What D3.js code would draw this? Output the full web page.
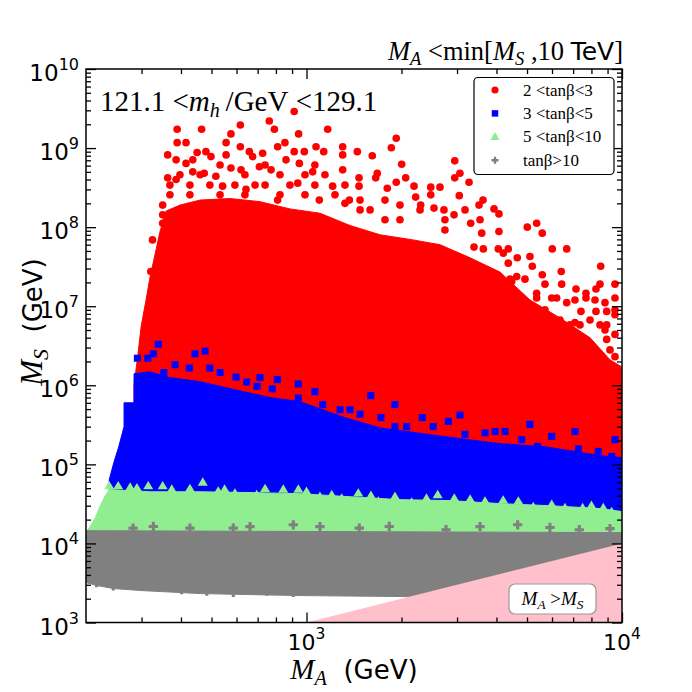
<!DOCTYPE html>
<html><head><meta charset="utf-8">
<script src="https://cdn.jsdelivr.net/npm/d3@7"></script>
<style>body{margin:0;background:#fff}svg{display:block}</style>
</head><body><svg id="c" width="692" height="692"></svg>
<script>
// ---------------- data (values in GeV) ----------------
const xTickValues = [1e3, 1e4];
const xTickExp = ["3", "4"];
const yTickValues = [1e3, 1e4, 1e5, 1e6, 1e7, 1e8, 1e9, 1e10];
const yTickExp = ["3", "4", "5", "6", "7", "8", "9", "10"];
const seriesNames = ["2 <tanβ<3", "3 <tanβ<5", "5 <tanβ<10", "tanβ>10"];

// densely filled parts of each sample, outlined as [M_A, M_S]
const redRegion = [[284,1.0e6],[292,2.4e6],[299,5.5e6],[310,1.2e7],[319,2.3e7],[331,4.5e7],[343,8.7e7],[359,1.6e8],[397,1.9e8],[460,2.2e8],[572,2.3e8],[712,2.1e8],[886,1.7e8],[1103,1.5e8],[1373,1.05e8],[1710,8.0e7],[2128,7.0e7],[2649,6.0e7],[3298,4.1e7],[4104,2.7e7],[5108,1.2e7],[6361,7.1e6],[7917,4.0e6],[9160,2.1e6],[10000,1.7e6],[10000,7.4e4],[284,7.4e4]];
const blueRegion = [[284,1.4e6],[319,1.48e6],[369,1.25e6],[460,1.11e6],[593,8.8e5],[766,7.0e5],[953,6.2e5],[1324,3.9e5],[1710,2.9e5],[2746,2.24e5],[4104,1.83e5],[5700,1.67e5],[8516,1.29e5],[10000,1.22e5],[10000,2.5e4],[237,4.1e4],[237,6.4e4],[245,1.05e5],[254,1.67e5],[264,3.0e5],[264,6.0e5],[284,6.0e5]];
const greenRegion = [[200,1.37e4],[206,1.63e4],[214,2.12e4],[222,3.0e4],[230,4.0e4],[237,4.8e4],[319,4.5e4],[460,4.5e4],[662,4.4e4],[953,4.26e4],[1367,3.9e4],[1978,3.58e4],[2849,3.48e4],[4104,3.19e4],[5910,3.0e4],[8516,2.76e4],[10000,2.53e4],[10000,1.12e4],[200,1.12e4]];
const grayRegion = [[200,1.45e4],[10000,1.37e4],[10000,1.95e3],[1978,2.13e3],[953,2.19e3],[460,2.32e3],[297,2.54e3],[244,2.69e3],[217,2.93e3],[200,3.2e3]];
const excludedRegion = [[1000,1000],[10000,10000],[10000,1000]];

// individual points on the sparse fringes, [M_A, M_S]
const redPoints = [[914,2.9e9],[762,2.2e9],[617,1.96e9],[389,1.73e9],[465,1.73e9],[791,1.73e9],[1167,1.73e9],[576,1.51e9],[944,1.51e9],[389,1.17e9],[415,1.17e9],[556,1.17e9],[854,1.17e9],[1302,1.04e9],[617,1.04e9],[810,1.04e9],[1072,1.04e9],[363,8.2e8],[450,8.8e8],[480,9.0e8],[556,8.2e8],[659,9.0e8],[726,8.6e8],[914,9.0e8],[984,9.0e8],[1302,8.2e8],[386,7.1e8],[498,7.8e8],[675,7.8e8],[1134,9.0e8],[415,6.4e8],[436,7.1e8],[861,7.1e8],[949,6.4e8],[363,4.2e8],[386,4.0e8],[576,5.6e8],[620,5.3e8],[709,5.8e8],[772,5.3e8],[1302,5.3e8],[1046,5.0e8],[436,5.0e8],[474,4.8e8],[516,4.4e8],[938,3.6e8],[1210,3.3e8],[350,1.9e8],[325,6.9e7],[321,2.75e7],[1098,2.2e8],[810,2.2e8],[643,3.0e8],[542,3.3e8],[1367,2.2e8],[350,1.43e8],[350,1.12e8],
[1925,1.33e9],[1857,1.01e9],[1449,9.0e8],[1616,8.0e8],[2950,6.9e8],[2003,6.25e8],[3064,4.8e8],[2950,4.2e8],[3274,3.7e8],[2476,3.2e8],[2649,3.2e8],[2062,4.2e8],[1925,3.7e8],[1676,4.8e8],[1657,4.2e8],[3050,2.5e8],[3626,2.2e8],[3522,1.9e8],[3930,1.7e8],[4074,1.47e8],[5010,1.0e8],[5364,1.12e8],[5588,8.4e7],[6012,5.3e7],[6679,5.3e7],[8560,3.2e7],[6420,2.75e7],[5588,2.5e7],[5195,3.2e7],[4656,4.1e7],[4074,8.8e7],[3592,8.4e7],[3314,1.12e8],[2935,1.43e8],[2727,1.65e8],[2535,1.74e8],[2301,1.9e8],[2218,2.4e8],[2476,2.56e8],[1803,3.1e8],[1467,4.2e8],[1467,3.3e8],[2192,3.3e8],
[9500,1.9e7],[8516,1.9e7],[6438,1.9e7],[7148,1.65e7],[7688,1.46e7],[7688,1.27e7],[8270,1.65e7],[8832,1.11e7],[9500,1.27e7],[7412,8.6e6],[8270,8.6e6],[8942,8.6e6],[9500,7.8e6],[6679,1.11e7],[5986,1.27e7],[6208,1.27e7],[5364,1.46e7],[5364,1.27e7],[5108,4.25e7],[4360,3.5e7],[4054,5.3e7],[4205,4.7e7],[4360,5.3e7],[3635,5.3e7],[3396,5.6e7],[5600,5.1e6],[5600,6.7e6],[6361,6.7e6],[6840,5.8e6],[7360,5.8e6],[7917,6.7e6],[8516,5.8e6],[8942,3.8e6],[9160,2.8e6],[9500,2.3e6],[8942,5.8e6],[8832,5.0e6],[4636,2.37e7],[4471,2.05e7],[4257,1.78e7],[3816,1.87e7],[4006,1.46e7],
[397,4.6e8],[460,4.6e8],[638,4.6e8],[824,4.6e8],[989,4.6e8],[1144,4.6e8],[369,3.4e8],[427,3.4e8],[494,3.4e8],[593,3.4e8],[687,3.4e8],[739,3.4e8],[886,3.4e8],[1063,3.4e8],[1324,3.4e8],[532,6.1e8],[739,6.1e8],[1063,6.1e8],[369,2.56e8],[427,2.56e8],[532,2.56e8],[638,2.56e8],[824,2.56e8],[989,2.56e8],[1231,2.56e8],[1324,2.0e8],
[1478,2.2e8],[1590,1.65e8],[1773,2.2e8],[1978,1.24e8],[1773,1.24e8],[2290,1.65e8],[2746,1.24e8],[3180,1.65e8],[1478,1.65e8],[1978,1.9e8],[2746,9.2e7],[3548,1.24e8],
[4414,2.2e7],[4926,2.2e7],[5700,1.9e7],[7094,1.2e7],[8210,1.2e7],[9500,9.0e6],[5700,9.0e6],[7094,6.2e6],[9500,4.4e6]];
const bluePoints = [[339,3.3e6],[291,2.2e6],[314,2.2e6],[327,2.5e6],[443,2.5e6],[477,2.7e6],[494,1.65e6],[425,1.65e6],[353,1.45e6],[532,1.45e6],[598,1.27e6],[646,1.1e6],[697,9.7e5],[808,1.18e6],[942,1.04e6],[779,9.0e5],[942,6.9e5],[1125,5.7e5],[1277,4.9e5],[1598,7.4e5],[1373,4.9e5],[1478,4.3e5],[2328,3.9e5],[2522,3.0e5],[2815,3.5e5],[3180,2.4e5],[3680,2.5e5],[3958,2.6e5],[4809,2.05e5],[5986,2.26e5],[7270,1.57e5],[5404,1.69e5],[8410,1.46e5],[9274,1.26e5],[1722,3.9e5],[1907,3.0e5],[2078,3.0e5],
[383,1.82e6],[712,1.25e6],[1063,8.3e5],[1907,5.7e5],[3066,4.2e5],[5108,3.2e5],[7094,2.6e5],[9500,2.05e5],[4257,2.6e5]];
const greenPoints = [[253,5.3e4],[315,5.3e4],[374,4.8e4],[469,5.9e4],[525,4.55e4],[593,4.3e4],[695,4.1e4],[844,4.8e4],[942,4.8e4],[1103,3.9e4],[1202,4.1e4],[1293,3.7e4],[1459,4.3e4],[1689,3.4e4],[2154,3.3e4],[2604,4.1e4],[2940,3.7e4],[3680,3.4e4],[4692,3.4e4],[5234,2.9e4],[5986,3.1e4],[6596,2.8e4],[7505,2.8e4],[8722,2.8e4],[9274,2.5e4],[276,5.1e4],[427,4.9e4],[739,4.9e4],[1907,3.9e4],
[237,5.3e4],[290,5.0e4],[350,5.3e4],[550,4.8e4],[1000,4.5e4],[1600,4.0e4],[2400,3.7e4],[3300,3.6e4],[4200,3.5e4],[8000,3.0e4]];
const grayPoints = [[282,1.56e4],[327,1.64e4],[427,1.56e4],[586,1.56e4],[908,1.72e4],[1470,1.56e4],[1829,1.64e4],[2768,1.49e4],[4670,1.72e4],[7323,1.49e4],[662,1.63e4],[1103,1.63e4],[3548,1.63e4],[5910,1.59e4],[9160,1.54e4],
[216,3.2e3],[244,2.9e3],[304,2.9e3],[402,2.6e3],[483,2.5e3],[586,2.4e3],[748,2.5e3],[908,2.4e3],[1544,2.9e3],[1898,2.5e3],[2335,2.9e3]];

// ---------------- drawing ----------------
const colors = ["#ff0000", "#0000ff", "#90ee90", "#808080"];
const L = 86, R = 622, T = 69, B = 622.5;
const svg = d3.select("#c");
const x = d3.scaleLog().domain([200, 1e4]).range([L, R]);
const y = d3.scaleLog().domain([1e3, 1e10]).range([B, T]);

svg.append("defs").append("clipPath").attr("id", "clip")
  .append("rect").attr("x", L).attr("y", T).attr("width", R - L).attr("height", B - T);
const plot = svg.append("g").attr("clip-path", "url(#clip)");

const outline = d3.line().x(d => x(d[0])).y(d => y(d[1])).curve(d3.curveLinearClosed);

const shapes = [
  d3.symbol(d3.symbolCircle, 46)(),
  d3.symbol(d3.symbolSquare, 50)(),
  "M0,-5.2L5,3.2L-5,3.2Z",
  d3.symbol(d3.symbolCross, 48)()
];
const regions = [redRegion, blueRegion, greenRegion, grayRegion];
const points = [redPoints, bluePoints, greenPoints, grayPoints];

regions.forEach((reg, i) => {
  const g = plot.append("g");
  g.append("path").attr("d", outline(reg)).attr("fill", colors[i]).attr("stroke", colors[i]).attr("stroke-width", 1);
  g.selectAll("path.pt").data(points[i]).join("path").attr("class", "pt")
    .attr("d", shapes[i])
    .attr("transform", d => `translate(${x(d[0])},${y(d[1])})`)
    .attr("fill", colors[i]);
});

// excluded region M_A > M_S
plot.append("path").attr("d", outline(excludedRegion)).attr("fill", "#ffc0cb");

// ----- axes -----
const minorX = [], minorY = [];
for (let k = 2; k <= 3; k++) for (let m = 2; m <= 9; m++) { const v = m * Math.pow(10, k); if (v > 200 && v < 1e4) minorX.push(v); }
for (let k = 3; k <= 9; k++) for (let m = 2; m <= 9; m++) minorY.push(m * Math.pow(10, k));

function addAxis(axisFn, scale, vals, size, transform) {
  const g = svg.append("g").attr("transform", transform)
    .call(axisFn(scale).tickValues(vals).tickSize(size).tickFormat(""));
  g.select(".domain").remove();
  g.selectAll(".tick line").attr("stroke", "#000").attr("stroke-width", 1.3);
}
addAxis(d3.axisBottom, x, xTickValues, -10, `translate(0,${B})`);
addAxis(d3.axisBottom, x, minorX, -5, `translate(0,${B})`);
addAxis(d3.axisTop, x, xTickValues, -10, `translate(0,${T})`);
addAxis(d3.axisTop, x, minorX, -5, `translate(0,${T})`);
addAxis(d3.axisLeft, y, yTickValues, -10, `translate(${L},0)`);
addAxis(d3.axisLeft, y, minorY, -5, `translate(${L},0)`);
addAxis(d3.axisRight, y, yTickValues, -10, `translate(${R},0)`);
addAxis(d3.axisRight, y, minorY, -5, `translate(${R},0)`);

svg.append("rect").attr("x", L).attr("y", T).attr("width", R - L).attr("height", B - T)
  .attr("fill", "none").attr("stroke", "#000").attr("stroke-width", 1.5);

const sans = "'DejaVu Sans', sans-serif";
const serif = "'Liberation Serif', 'DejaVu Serif', serif";

// tick labels
yTickValues.forEach((v, i) => {
  const t = svg.append("text").attr("x", L - 7).attr("y", y(v) + 12).attr("text-anchor", "end")
    .attr("font-family", sans).attr("font-size", 23);
  t.append("tspan").text("10");
  t.append("tspan").attr("font-size", 16).attr("dy", -11).text(yTickExp[i]);
});
xTickValues.forEach((v, i) => {
  const t = svg.append("text").attr("x", x(v)).attr("y", B + 27).attr("text-anchor", "middle")
    .attr("font-family", sans).attr("font-size", 22);
  t.append("tspan").text("10");
  t.append("tspan").attr("font-size", 15.5).attr("dy", -11).text(xTickExp[i]);
});

// axis titles
function massLabel(sel, sub, size) {
  sel.append("tspan").attr("font-family", serif).attr("font-style", "italic").attr("font-size", size).text("M");
  sel.append("tspan").attr("font-family", serif).attr("font-style", "italic").attr("font-size", size * 0.7).attr("dy", size * 0.2).text(sub);
}
const xl = svg.append("text").attr("x", 354).attr("y", 679).attr("text-anchor", "middle");
massLabel(xl, "A", 29);
xl.append("tspan").attr("dy", -29 * 0.2).attr("font-family", sans).attr("font-size", 26).text("\u00a0\u00a0(GeV)");

const yl = svg.append("text").attr("transform", "translate(42,322) rotate(-90)").attr("text-anchor", "middle");
massLabel(yl, "S", 31);
yl.append("tspan").attr("dy", -31 * 0.2).attr("font-family", sans).attr("font-size", 26).text("\u00a0\u00a0(GeV)");

// top-right title
const tt = svg.append("text").attr("x", 623).attr("y", 60).attr("text-anchor", "end").attr("font-size", 26.5);
massLabel(tt, "A", 26.5);
tt.append("tspan").attr("dy", -26.5 * 0.2).attr("font-family", serif).text("\u00a0<min[");
massLabel(tt, "S", 26.5);
tt.append("tspan").attr("dy", -26.5 * 0.2).attr("font-family", serif).text("\u00a0,10\u00a0");
tt.append("tspan").attr("font-family", sans).attr("font-size", 25).text("TeV");
tt.append("tspan").attr("font-family", serif).text("]");

// in-plot annotation
const an = svg.append("text").attr("x", 100).attr("y", 111).attr("font-family", serif).attr("font-size", 29);
an.append("tspan").text("121.1\u00a0<");
an.append("tspan").attr("font-style", "italic").text("m");
an.append("tspan").attr("font-style", "italic").attr("font-size", 20).attr("dy", 6).text("h");
an.append("tspan").attr("dy", -6).text("\u2009/GeV\u00a0<129.1");

// legend
const lg = svg.append("g");
lg.append("rect").attr("x", 474).attr("y", 77.5).attr("width", 140).attr("height", 97).attr("rx", 4)
  .attr("fill", "#fff").attr("stroke", "#000").attr("stroke-width", 1.2);
const legendShapes = [
  d3.symbol(d3.symbolCircle, 40)(),
  d3.symbol(d3.symbolSquare, 42)(),
  "M0,-4.8L4.6,3.2L-4.6,3.2Z",
  d3.symbol(d3.symbolCross, 28)()
];
seriesNames.forEach((name, i) => {
  const ry = 90 + i * 23.4;
  lg.append("path").attr("d", legendShapes[i]).attr("transform", `translate(495,${ry})`).attr("fill", colors[i]);
  lg.append("text").attr("x", 523).attr("y", ry + 5.5).attr("font-family", serif).attr("font-size", 17).text(name);
});

// M_A > M_S box
svg.append("rect").attr("x", 509).attr("y", 584).attr("width", 87).attr("height", 30).attr("rx", 6)
  .attr("fill", "#fff").attr("stroke", "#999").attr("stroke-width", 1.2);
const bx = svg.append("text").attr("x", 552.5).attr("y", 605).attr("text-anchor", "middle").attr("font-size", 19);
massLabel(bx, "A", 19);
bx.append("tspan").attr("dy", -19 * 0.2).attr("font-family", serif).text("\u00a0>");
massLabel(bx, "S", 19);
</script></body></html>
